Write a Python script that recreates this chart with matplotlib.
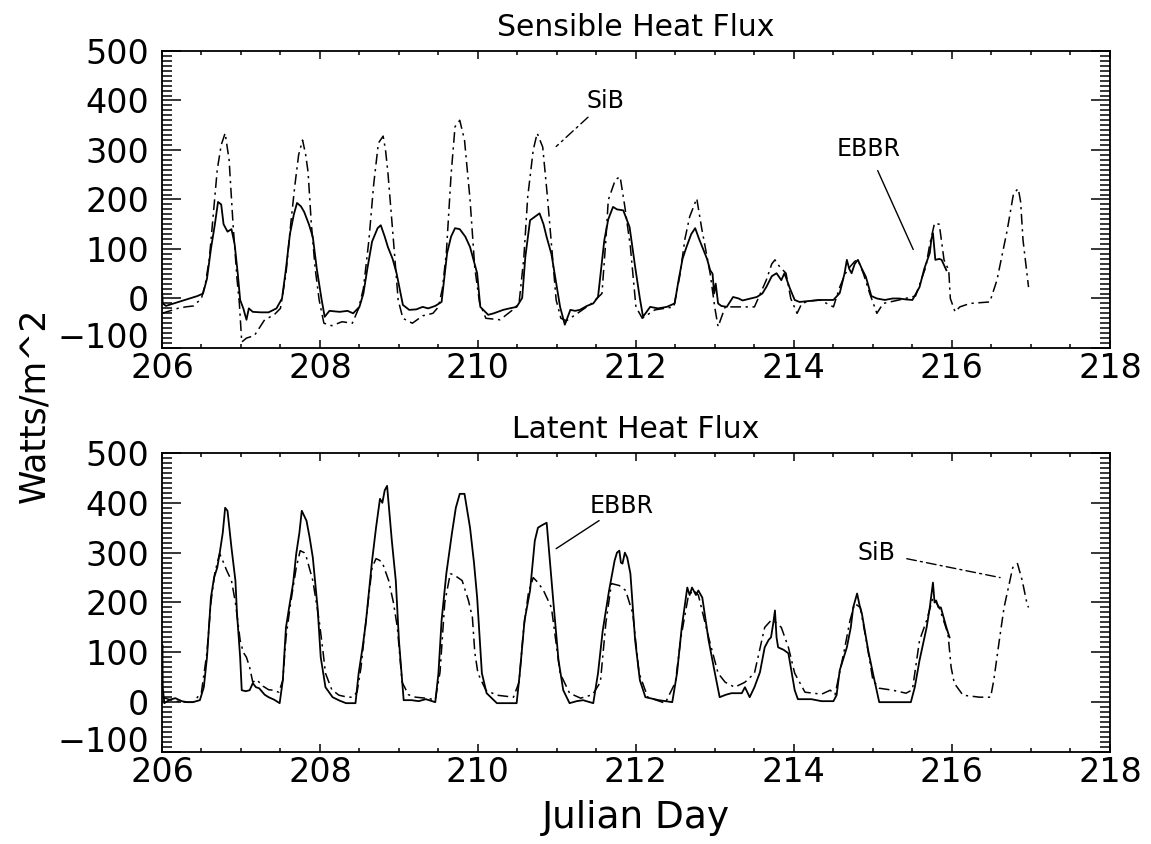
import numpy as np
import matplotlib
matplotlib.use("Agg")
import matplotlib.pyplot as plt
from matplotlib.ticker import MultipleLocator

# Sensible heat flux, EBBR (solid)
sh_ebbr_day = [206.00, 206.01, 206.05, 206.15, 206.25, 206.35, 206.45, 206.52, 206.57, 206.62,
               206.67, 206.71, 206.75, 206.78, 206.83, 206.88, 206.92, 206.96, 206.99, 207.03,
               207.07, 207.10, 207.15, 207.25, 207.35, 207.45, 207.52, 207.57, 207.62, 207.67,
               207.71, 207.76, 207.80, 207.86, 207.91, 207.96, 208.02, 208.06, 208.12, 208.25,
               208.35, 208.42, 208.50, 208.55, 208.60, 208.66, 208.73, 208.77, 208.82, 208.86,
               208.92, 208.97, 209.05, 209.13, 209.22, 209.30, 209.37, 209.46, 209.54, 209.61,
               209.66, 209.71, 209.77, 209.84, 209.90, 209.99, 210.03, 210.13, 210.20, 210.32,
               210.40, 210.49, 210.56, 210.60, 210.66, 210.72, 210.78, 210.83, 210.87, 210.93,
               210.97, 211.04, 211.10, 211.17, 211.23, 211.29, 211.38, 211.46, 211.52, 211.56,
               211.60, 211.65, 211.71, 211.76, 211.84, 211.92, 211.99, 212.05, 212.09, 212.18,
               212.28, 212.39, 212.49, 212.54, 212.59, 212.64, 212.70, 212.75, 212.80, 212.84,
               212.90, 212.94, 212.97, 212.99, 213.01, 213.04, 213.08, 213.15, 213.23, 213.30,
               213.35, 213.45, 213.53, 213.60, 213.65, 213.72, 213.78, 213.84, 213.88, 213.95,
               214.01, 214.07, 214.20, 214.33, 214.50, 214.58, 214.64, 214.67, 214.70, 214.73,
               214.77, 214.81, 214.86, 214.91, 214.98, 215.05, 215.15, 215.25, 215.33, 215.42,
               215.50, 215.59, 215.65, 215.72, 215.74, 215.76, 215.79, 215.84, 215.87, 215.93]
sh_ebbr_val = [20, -10, -15, -10, -5, 0, 5, 10, 40, 100,
               150, 195, 190, 150, 135, 140, 110, 50, -3, -20,
               -43, -20, -27, -28, -28, -20, 0, 60, 130, 170,
               193, 186, 175, 150, 124, 60, -1, -37, -25, -27,
               -25, -30, -17, 10, 60, 115, 142, 148, 125, 104,
               80, 51, -13, -23, -22, -17, -20, -15, -7, 92,
               125, 142, 140, 125, 104, 51, -17, -33, -30, -23,
               -20, -17, 1, 84, 158, 165, 172, 150, 124, 90,
               51, -17, -53, -23, -25, -23, -15, -10, 3, 60,
               118, 160, 185, 180, 178, 144, 64, 0, -37, -17,
               -20, -17, -10, 37, 80, 104, 130, 142, 120, 104,
               80, 57, 50, 10, 30, -10, -15, -17, 3, 0,
               -4, 0, 3, 10, 23, 45, 51, 37, 51, 20,
               -3, -7, -5, -3, -3, 11, 50, 78, 60, 51,
               70, 78, 60, 44, 5, 0, -3, 0, 0, -2,
               -3, 23, 60, 92, 120, 132, 78, 80, 78, 57]

# Sensible heat flux, SiB (dash-dot)
sh_sib_day = [206.00, 206.10, 206.20, 206.30, 206.40, 206.50, 206.55, 206.60, 206.65, 206.70,
              206.75, 206.80, 206.85, 206.90, 206.95, 206.98, 207.01, 207.07, 207.17, 207.30,
              207.42, 207.50, 207.57, 207.63, 207.68, 207.73, 207.78, 207.82, 207.85, 207.89,
              207.94, 207.99, 208.05, 208.15, 208.28, 208.41, 208.49, 208.55, 208.62, 208.68,
              208.74, 208.80, 208.83, 208.86, 208.93, 208.99, 209.05, 209.17, 209.30, 209.43,
              209.50, 209.55, 209.60, 209.66, 209.71, 209.77, 209.83, 209.90, 209.96, 210.02,
              210.10, 210.28, 210.44, 210.52, 210.58, 210.63, 210.70, 210.75, 210.82, 210.88,
              210.94, 210.99, 211.05, 211.12, 211.26, 211.44, 211.57, 211.62, 211.65, 211.74,
              211.80, 211.86, 211.93, 212.00, 212.08, 212.24, 212.48, 212.56, 212.62, 212.68,
              212.77, 212.83, 212.94, 213.00, 213.04, 213.13, 213.38, 213.50, 213.65, 213.72,
              213.76, 213.82, 213.90, 213.96, 214.04, 214.10, 214.20, 214.33, 214.50, 214.58,
              214.65, 214.71, 214.77, 214.81, 214.88, 214.96, 215.05, 215.13, 215.33, 215.54,
              215.67, 215.72, 215.78, 215.84, 215.90, 215.96, 215.98, 216.04, 216.10, 216.23,
              216.48, 216.57, 216.70, 216.78, 216.84, 216.87, 216.90, 216.97]
sh_sib_val = [-30, -25, -20, -17, -15, 0, 30, 80, 170, 260,
              310, 334, 280, 150, 40, -10, -88, -80, -75, -43,
              -33, -20, 50, 150, 225, 290, 320, 290, 255, 153,
              60, -3, -50, -55, -47, -50, -20, 20, 118, 230,
              314, 328, 300, 255, 118, -3, -40, -50, -35, -30,
              -17, 20, 92, 250, 347, 360, 320, 200, 62, -8,
              -40, -43, -23, -10, 80, 205, 300, 334, 306, 205,
              92, -3, -40, -45, -30, -10, 10, 120, 199, 240,
              246, 185, 104, -17, -40, -23, -17, 50, 120, 165,
              202, 144, 50, -20, -57, -17, -17, -17, 37, 70,
              78, 64, 51, 0, -30, -10, -5, -3, -17, 23,
              50, 64, 75, 78, 50, 10, -30, -10, -3, 5,
              64, 110, 152, 150, 78, 57, 0, -27, -17, -10,
              -7, 37, 138, 212, 222, 195, 118, 23]

# Latent heat flux, EBBR (solid)
lh_ebbr_day = [206.00, 206.005, 206.01, 206.03, 206.10, 206.17, 206.25, 206.32, 206.39, 206.48,
               206.53, 206.57, 206.62, 206.66, 206.70, 206.73, 206.77, 206.80, 206.83, 206.88,
               206.93, 206.95, 206.99, 207.01, 207.06, 207.11, 207.15, 207.19, 207.23, 207.30,
               207.35, 207.42, 207.49, 207.53, 207.57, 207.62, 207.66, 207.70, 207.74, 207.77,
               207.83, 207.87, 207.91, 207.97, 208.01, 208.07, 208.16, 208.25, 208.33, 208.45,
               208.49, 208.54, 208.58, 208.66, 208.71, 208.76, 208.79, 208.82, 208.85, 208.88,
               208.91, 208.96, 209.00, 209.06, 209.16, 209.25, 209.34, 209.46, 209.50, 209.54,
               209.60, 209.67, 209.72, 209.77, 209.83, 209.90, 209.95, 209.99, 210.05, 210.11,
               210.24, 210.49, 210.53, 210.59, 210.66, 210.72, 210.76, 210.81, 210.87, 210.91,
               210.95, 211.02, 211.08, 211.16, 211.25, 211.33, 211.46, 211.52, 211.58, 211.66,
               211.73, 211.76, 211.79, 211.81, 211.83, 211.86, 211.89, 211.93, 211.99, 212.05,
               212.12, 212.29, 212.46, 212.52, 212.58, 212.65, 212.68, 212.71, 212.73, 212.76,
               212.79, 212.84, 212.92, 213.00, 213.06, 213.14, 213.21, 213.34, 213.38, 213.44,
               213.50, 213.57, 213.63, 213.68, 213.71, 213.74, 213.76, 213.78, 213.80, 213.87,
               213.93, 214.01, 214.05, 214.22, 214.35, 214.50, 214.54, 214.58, 214.67, 214.72,
               214.75, 214.80, 214.83, 214.86, 214.94, 215.00, 215.08, 215.30, 215.48, 215.53,
               215.59, 215.68, 215.72, 215.76, 215.78, 215.80, 215.83, 215.86, 215.93, 215.97]
lh_ebbr_val = [64, 115, 30, -2, 5, 8, 2, 0, 0, 4,
               30, 90, 210, 250, 270, 298, 340, 390, 384, 310,
               244, 178, 90, 24, 22, 24, 38, 30, 28, 15,
               10, 5, -2, 44, 150, 200, 238, 298, 340, 384,
               364, 330, 290, 190, 90, 30, 10, 3, -2, -2,
               58, 110, 158, 284, 350, 408, 400, 425, 434, 380,
               324, 244, 124, 4, 4, 2, 6, 0, 58, 164,
               258, 338, 390, 418, 418, 350, 280, 210, 58, 18,
               -2, -2, 58, 164, 224, 324, 350, 355, 360, 284,
               210, 84, 24, -2, 2, 4, -2, 58, 144, 224,
               284, 300, 304, 280, 278, 300, 290, 258, 124, 44,
               10, 4, 0, 58, 150, 230, 215, 230, 224, 215,
               224, 210, 124, 58, 10, 15, 18, 18, 30, 10,
               30, 60, 110, 125, 130, 160, 184, 130, 110, 105,
               98, 24, 6, 6, 2, 2, 14, 64, 110, 150,
               190, 218, 195, 178, 104, 58, 0, 0, 0, 30,
               84, 150, 190, 240, 200, 204, 190, 190, 150, 130]

# Latent heat flux, SiB (dash-dot)
lh_sib_day = [206.00, 206.10, 206.25, 206.40, 206.50, 206.57, 206.62, 206.67, 206.73, 206.78,
              206.82, 206.88, 206.93, 206.99, 207.03, 207.07, 207.11, 207.15, 207.20, 207.28,
              207.35, 207.41, 207.48, 207.53, 207.57, 207.63, 207.70, 207.75, 207.80, 207.83,
              207.91, 207.99, 208.04, 208.07, 208.15, 208.24, 208.35, 208.41, 208.47, 208.52,
              208.58, 208.66, 208.71, 208.75, 208.79, 208.87, 208.93, 208.98, 209.04, 209.12,
              209.21, 209.34, 209.46, 209.52, 209.58, 209.65, 209.71, 209.80, 209.88, 209.93,
              209.96, 210.00, 210.10, 210.24, 210.45, 210.52, 210.58, 210.64, 210.70, 210.76,
              210.83, 210.93, 211.04, 211.16, 211.30, 211.45, 211.55, 211.62, 211.69, 211.79,
              211.87, 211.96, 212.04, 212.15, 212.37, 212.50, 212.57, 212.66, 212.72, 212.79,
              212.92, 213.04, 213.13, 213.25, 213.38, 213.50, 213.63, 213.71, 213.77, 213.84,
              213.93, 214.01, 214.14, 214.35, 214.46, 214.52, 214.63, 214.71, 214.77, 214.84,
              214.92, 215.00, 215.08, 215.25, 215.42, 215.50, 215.59, 215.68, 215.76, 215.84,
              215.95, 215.99, 216.03, 216.14, 216.35, 216.49, 216.53, 216.60, 216.66, 216.77,
              216.83, 216.89, 216.95, 216.97]
lh_sib_val = [10, 5, 0, 0, 20, 100, 200, 260, 298, 280,
              264, 244, 200, 124, 100, 90, 70, 40, 45, 32,
              25, 24, 20, 44, 130, 200, 270, 304, 300, 290,
              244, 164, 100, 58, 25, 14, 10, 10, 20, 70,
              160, 270, 288, 285, 280, 244, 200, 150, 40, 15,
              10, 8, 5, 60, 200, 258, 254, 244, 204, 170,
              100, 58, 24, 14, 10, 40, 150, 220, 250, 240,
              224, 190, 58, 18, 8, 15, 40, 160, 238, 234,
              224, 178, 58, 10, -2, 40, 130, 210, 225, 215,
              130, 58, 40, 30, 40, 58, 150, 164, 160, 150,
              110, 58, 20, 16, 24, 15, 98, 164, 198, 190,
              120, 44, 28, 24, 18, 25, 124, 164, 210, 190,
              137, 70, 38, 14, 10, 10, 44, 124, 190, 270,
              278, 244, 198, 190]

titles = ["Sensible Heat Flux", "Latent Heat Flux"]
x_ticks = [206, 208, 210, 212, 214, 216, 218]
y_ticks = [-100, 0, 100, 200, 300, 400, 500]

plt.rcParams['font.family'] = ['DejaVu Sans']
DASHDOT = (0, (7, 3, 1.5, 3))

fig = plt.figure(figsize=(11.51, 8.44), dpi=100)
ax1 = fig.add_axes([0.1407, 0.5877, 0.8236, 0.3519])
ax2 = fig.add_axes([0.1407, 0.1090, 0.8236, 0.3543])

series = [(ax1, sh_ebbr_day, sh_ebbr_val, sh_sib_day, sh_sib_val),
          (ax2, lh_ebbr_day, lh_ebbr_val, lh_sib_day, lh_sib_val)]

for (ax, ed, ev, sd, sv), title in zip(series, titles):
    ax.plot(ed, ev, color='black', lw=1.3)
    ax.plot(sd, sv, color='black', lw=1.1, linestyle=DASHDOT)
    ax.set_xlim(206, 218)
    ax.set_ylim(-100, 500)
    ax.set_xticks(x_ticks)
    ax.set_yticks(y_ticks)
    ax.set_yticklabels([str(v).replace('-', '\u2212') for v in y_ticks])
    # the lowest label sits just above its tick, as in the original
    ax.get_yticklabels()[0].set_va('baseline')
    ax.xaxis.set_minor_locator(MultipleLocator(0.5))
    ax.yaxis.set_minor_locator(MultipleLocator(10))
    ax.tick_params(which='both', direction='in', top=True, right=True, labelsize=24, width=1.1)
    ax.tick_params(axis='x', which='major', length=6, pad=3)
    ax.tick_params(axis='x', which='minor', length=3)
    ax.tick_params(axis='y', which='major', length=14, pad=9)
    ax.tick_params(axis='y', which='minor', length=7)
    for sp in ax.spines.values():
        sp.set_linewidth(1.3)
    ax.set_title(title, fontsize=21.5, pad=11)

# leader labels
ax1.annotate('SiB', xy=(210.99, 307), xytext=(211.61, 398), ha='center', va='center', fontsize=17,
             arrowprops=dict(arrowstyle='-', lw=1, linestyle=DASHDOT, shrinkA=1, shrinkB=0))
ax1.annotate('EBBR', xy=(215.51, 99), xytext=(214.94, 301), ha='center', va='center', fontsize=17,
             arrowprops=dict(arrowstyle='-', lw=1, shrinkA=5, shrinkB=0))
ax2.annotate('EBBR', xy=(210.99, 308), xytext=(211.82, 394), ha='center', va='center', fontsize=17,
             arrowprops=dict(arrowstyle='-', lw=1, shrinkA=0, shrinkB=0))
ax2.annotate('SiB', xy=(216.61, 250), xytext=(215.05, 300), ha='center', va='center', fontsize=17,
             arrowprops=dict(arrowstyle='-', lw=1, linestyle=DASHDOT, shrinkA=6, shrinkB=0))

ax2.set_xlabel('Julian Day', fontsize=27, labelpad=8)
fig.text(34 / 1151, 1 - 405 / 844, 'Watts/m^2', rotation=90, fontsize=25, ha='center', va='center')

fig.savefig('out.png', dpi=100)
